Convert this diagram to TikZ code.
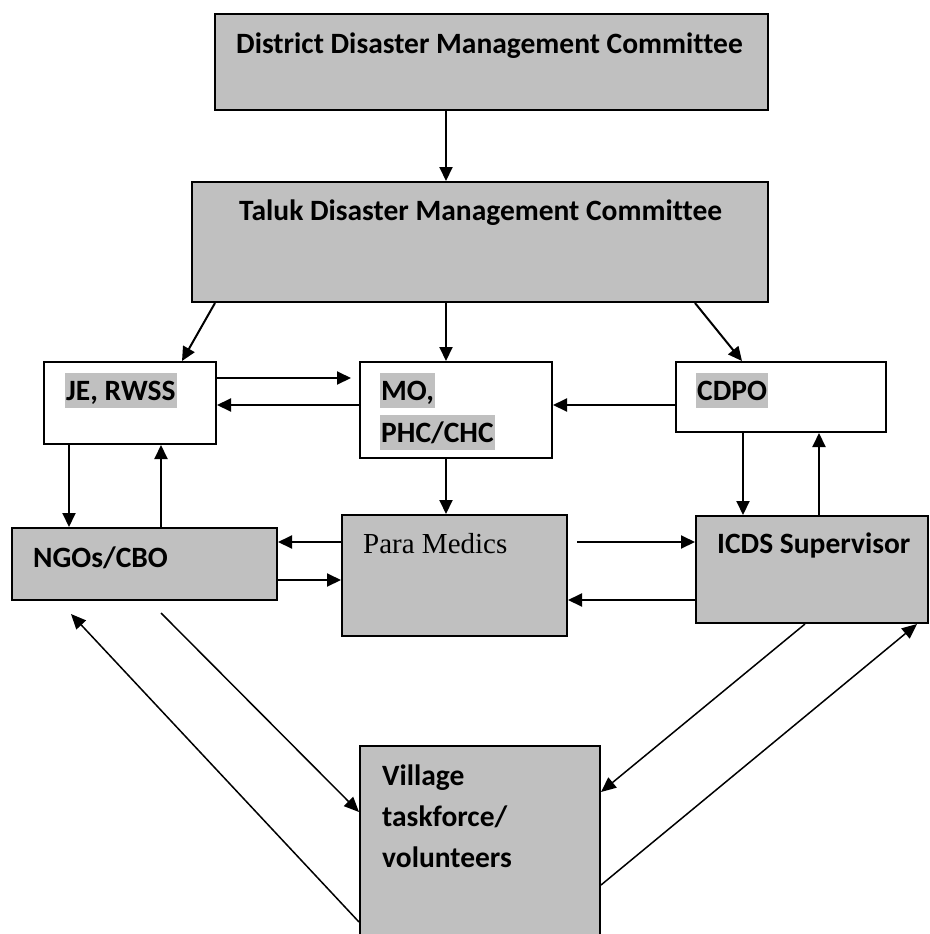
\documentclass[tikz,border=0pt]{standalone}
\usepackage{fontspec}
\setmainfont[Ligatures=NoCommon]{Carlito}
\newfontfamily\serifface{Liberation Serif}
\usetikzlibrary{arrows.meta,fit,calc}
\definecolor{boxgray}{RGB}{192,192,192}
\begin{document}
\begin{tikzpicture}[x=1pt,y=-1pt,
  gbox/.style={draw=black,line width=2pt,fill=boxgray,inner sep=0pt},
  wbox/.style={draw=black,line width=2pt,fill=white,inner sep=0pt},
  lbl/.style={inner sep=0pt,anchor=base west,font=\bfseries\fontsize{29.5}{35}\selectfont},
  hl/.style={lbl,fill=boxgray,inner xsep=1pt,inner ysep=0pt,text height=27pt,text depth=8pt},
  arr/.style={line width=2pt,-{Triangle[length=14pt,width=13pt]}},
  thinarr/.style={line width=1.5pt,-{Triangle[length=15pt,width=13pt]}}]
\useasboundingbox (0,0) rectangle (929,934);

% boxes
\node[gbox,fit={(215,14) (768,110)}] (district) {};
\node[gbox,fit={(192,182) (768,302)}] (taluk) {};
\node[wbox,fit={(44,362) (216,444)}] (je) {};
\node[wbox,fit={(360,362) (552,458)}] (mo) {};
\node[wbox,fit={(676,362) (886,432)}] (cdpo) {};
\node[gbox,fit={(12,528) (277,600)}] (ngo) {};
\node[gbox,fit={(342,515) (567,636)}] (para) {};
\node[gbox,fit={(696,516) (928,623)}] (icds) {};
\node[gbox,fit={(360,746) (600,945)}] (village) {};

% labels
\node[lbl] (districttxt) at (236,54) {District Disaster Management Committee};
\node[lbl] (taluktxt) at (239,220) {Taluk Disaster Management Committee};
\node[hl] (jetxt) at (65,400) {JE, RWSS};
\node[hl] (motxt) at (380,400) {MO,};
\node[hl] (phctxt) at (380,442) {PHC/CHC};
\node[hl] (cdpotxt) at (696,400) {CDPO};
\node[lbl] (ngotxt) at (33,567) {NGOs/CBO};
\node[inner sep=0pt,anchor=base west,font=\serifface\fontsize{29}{35}\selectfont] (paratxt) at (363,553) {Para Medics};
\node[lbl] (icdstxt) at (717,553) {ICDS Supervisor};
\node[lbl] (vil1) at (382,785) {Village};
\node[lbl] (vil2) at (382,826) {taskforce/};
\node[lbl] (vil3) at (382,867) {volunteers};

% main vertical line through the centre column
\coordinate (xA) at (446,0);
\draw[arr] (district.south -| xA) -- (taluk.north -| xA);
\draw[arr] (taluk.south -| xA) -- (mo.north -| xA);
\draw[arr] (mo.south -| xA) -- (para.north -| xA);

% taluk to the three offices
\draw[arr] ([xshift=24pt]taluk.south west) -- ([xshift=139pt]je.north west);
\draw[arr] ([xshift=504pt]taluk.south west) -- ([xshift=67pt]cdpo.north west);

% links between the offices
\draw[arr] ([yshift=-17pt]je.north east) -- ([xshift=-8pt,yshift=-17pt]mo.north west);
\draw[arr] ([yshift=-44pt]mo.north west) -- ([yshift=-44pt]je.north east);
\draw[arr] ([yshift=-44pt]cdpo.north west) -- ([yshift=-44pt]mo.north east);

% offices to field level
\draw[arr] ([xshift=26pt]je.south west) -- ([xshift=58pt]ngo.north west);
\draw[arr] ([xshift=150pt]ngo.north west) -- ([xshift=118pt]je.south west);
\draw[arr] ([xshift=68pt]cdpo.south west) -- ([xshift=48pt]icds.north west);
\draw[arr] ([xshift=124pt]icds.north west) -- ([xshift=144pt]cdpo.south west);

% field level links
\draw[arr] ([yshift=-28pt]para.north west) -- ([yshift=-15pt]ngo.north east);
\draw[arr] ([yshift=-53pt]ngo.north east) -- ([yshift=-66pt]para.north west);
\draw[arr] ([xshift=9pt,yshift=-28pt]para.north east) -- ([yshift=-27pt]icds.north west);
\draw[arr] ([yshift=-85pt]icds.north west) -- ([yshift=-86pt]para.north east);

% village taskforce links
\draw[thinarr] ([xshift=150pt,yshift=-12pt]ngo.south west) -- ([yshift=-67pt]village.north west);
\draw[thinarr] ([yshift=-177pt]village.north west) -- ([xshift=60pt,yshift=-13pt]ngo.south west);
\draw[thinarr] ([xshift=110pt]icds.south west) -- ([yshift=-47pt]village.north east);
\draw[thinarr] ([yshift=-140pt]village.north east) -- ([xshift=222pt]icds.south west);
\end{tikzpicture}
\end{document}
